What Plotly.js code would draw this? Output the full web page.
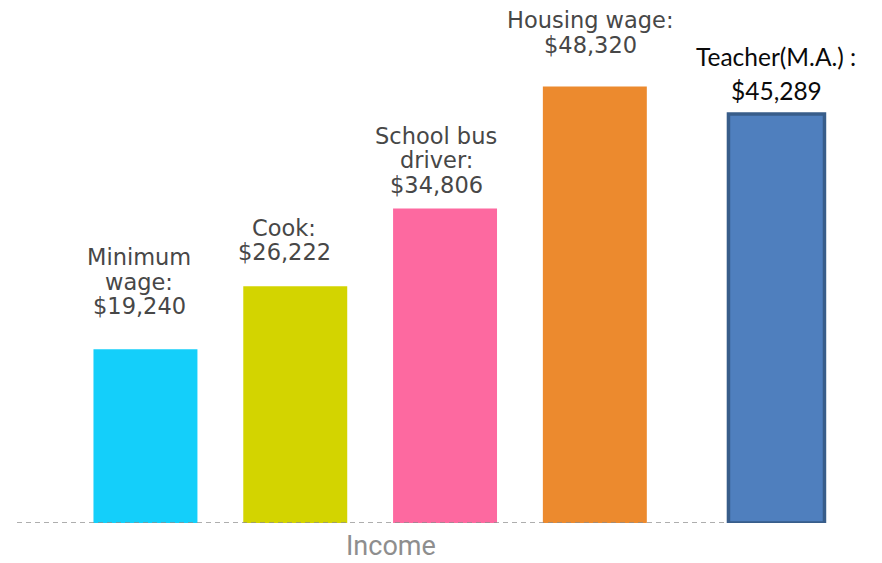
<!DOCTYPE html>
<html>
<head>
<meta charset="utf-8">
<script src="https://cdn.plot.ly/plotly-3.0.1.min.js"></script>
<style>html,body{margin:0;padding:0;background:#fff;}#chart{width:882px;height:563px;}</style>
</head>
<body>
<div id="chart"></div>
<script>
// ---- data ----
const categories = ["Minimum wage", "Cook", "School bus driver", "Housing wage", "Teacher(M.A.)"];
const values = [19240, 26222, 34806, 48320, 45289];
const labels = ["Minimum<br>wage:<br>$19,240", "Cook:<br>$26,222", "School bus<br>driver:<br>$34,806", "Housing wage:<br>$48,320", "Teacher(M.A.) :<br>$45,289"];
const axisLabel = "Income";

// ---- styles ----
const colors = ["#14cffa", "#d3d400", "#fd69a0", "#ec8a2e", "#4f7fbe"];
const lineColors = ["rgba(0,0,0,0)", "rgba(0,0,0,0)", "rgba(0,0,0,0)", "rgba(0,0,0,0)", "#385d8a"];
const lineWidths = [0, 0, 0, 0, 3.5];
const widths = [0.694, 0.694, 0.694, 0.694, 0.641];
const offsets = [-0.347, -0.347, -0.347, -0.347, -0.108];
const labelDx = [-6, -11, -9, -4, 0];      // px
const labelGap = [43, 34, 24, 42, 23];     // px, bar top to centre of last line
const grayFont = { family: "'DejaVu Sans', 'Noto Sans', sans-serif", size: 22.5, color: "#474747" };
const blackFont = { family: "Lato, 'Open Sans', sans-serif", size: 24.5, color: "#0a0a0a" };

const trace = {
  type: "bar",
  x: categories,
  y: values,
  width: widths,
  offset: offsets,
  marker: { color: colors, line: { color: lineColors, width: lineWidths } },
  hoverinfo: "skip"
};

const annotations = [];
categories.forEach((c, i) => {
  const lines = labels[i].split("<br>");
  const font = i === 4 ? blackFont : grayFont;
  const spacing = i === 4 ? 34.5 : 24.5;
  const cx = i + offsets[i] + widths[i] / 2;
  lines.forEach((ln, k) => {
    annotations.push({
      x: cx, y: values[i], xref: "x", yref: "y",
      xanchor: "center", yanchor: "middle",
      xshift: labelDx[i],
      yshift: labelGap[i] + (lines.length - 1 - k) * spacing,
      text: ln, showarrow: false, font: font
    });
  });
});
annotations.push({
  x: 391 / 882, y: -40 / 523, xref: "paper", yref: "paper",
  xanchor: "center", yanchor: "bottom", borderpad: 0,
  text: axisLabel, showarrow: false,
  font: { family: "Roboto, 'Liberation Sans', sans-serif", size: 27, color: "#8e8e8e" }
});

const layout = {
  width: 882, height: 563,
  margin: { l: 0, r: 0, t: 0, b: 40 },
  paper_bgcolor: "#fff", plot_bgcolor: "#fff",
  showlegend: false,
  xaxis: { type: "category", range: [-0.971, 4.917], showgrid: false, zeroline: false, showticklabels: false, showline: false, ticks: "" },
  yaxis: { range: [0, 57900], showgrid: false, zeroline: false, showticklabels: false, showline: false, ticks: "" },
  shapes: [{
    type: "line", xref: "paper", yref: "y",
    x0: 17 / 882, x1: 726 / 882, y0: 0, y1: 0,
    line: { color: "rgba(140,140,140,0.7)", width: 2, dash: "5px,4px" },
    layer: "above"
  }],
  annotations: annotations
};

Plotly.newPlot("chart", [trace], layout, { displayModeBar: false, staticPlot: true });
</script>
</body>
</html>
